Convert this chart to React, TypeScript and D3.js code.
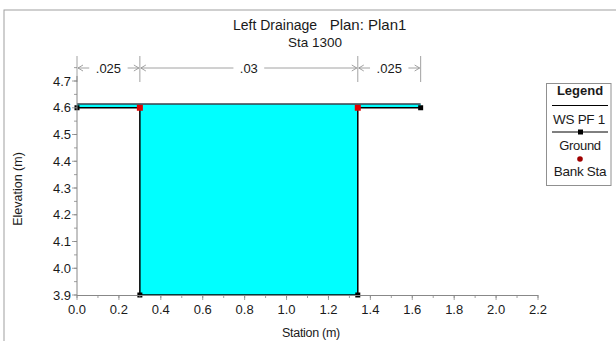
import React from 'react';
import * as d3 from 'd3';

const groundStation = [0, 0.3, 0.3, 1.34, 1.34, 1.64];
const groundElev = [4.6, 4.6, 3.9, 3.9, 4.6, 4.6];
const wsElev = 4.614;
const bankStation = [0.3, 1.34];
const bankElev = [4.6, 4.6];
const nBreaks = [0, 0.3, 1.34, 1.64];
const nLabels = ['.025', '.03', '.025'];
const xTickValues = [0, 0.2, 0.4, 0.6, 0.8, 1.0, 1.2, 1.4, 1.6, 1.8, 2.0, 2.2];
const yTickValues = [3.9, 4.0, 4.1, 4.2, 4.3, 4.4, 4.5, 4.6, 4.7];

const font = '"Liberation Sans", Arial, sans-serif';

export default function App() {
  const x = d3.scaleLinear().domain([0, 2.2]).range([77, 538]);
  const y = d3.scaleLinear().domain([3.9, 4.7]).range([295, 81]);

  const ground = groundStation.map((s, i) => [s, groundElev[i]] as [number, number]);
  const line = d3.line<[number, number]>().x(d => x(d[0])).y(d => y(d[1]));
  const area = d3.area<[number, number]>()
    .x(d => x(d[0]))
    .y0(d => y(d[1]))
    .y1(() => y(wsElev));

  const xMinor = d3.range(0, 2.2001, 0.1);
  const yMinor = d3.range(3.9, 4.7501, 0.05);
  const arrowY = 68;
  const grey = '#8a8a8a';
  const txt = '#1a1a1a';

  return (
    <svg width={616} height={341} style={{ position: 'absolute', left: 0, top: 0 }}>
      <rect x={4} y={10} width={640} height={360} fill="#fff" stroke="#a0a0a0" />

      {/* title */}
      <text x={275} y={30} fontFamily={font} fontSize={14} textAnchor="middle" fill={txt}>Left Drainage</text>
      <text x={368} y={30} fontFamily={font} fontSize={15} textAnchor="middle" fill={txt}>Plan: Plan1</text>
      <text x={315} y={47} fontFamily={font} fontSize={13.5} textAnchor="middle" fill={txt}>Sta 1300</text>

      {/* n values */}
      {nBreaks.map((b, i) => (
        <line key={'nb' + i} x1={x(b)} x2={x(b)} y1={56} y2={82} stroke={grey} strokeWidth={0.8} />
      ))}
      {nLabels.map((lab, i) => {
        const a = x(nBreaks[i]);
        const b = x(nBreaks[i + 1]);
        const m = (a + b) / 2;
        const half = lab.length * 3.8 + 4;
        return (
          <g key={'nl' + i}>
            <line x1={a + 1} x2={m - half} y1={arrowY} y2={arrowY} stroke={grey} strokeWidth={0.8} />
            <line x1={m + half} x2={b - 1} y1={arrowY} y2={arrowY} stroke={grey} strokeWidth={0.8} />
            <path d={`M${a + 6},${arrowY - 3}L${a + 1},${arrowY}L${a + 6},${arrowY + 3}`} fill="none" stroke={grey} strokeWidth={0.8} />
            <path d={`M${b - 6},${arrowY - 3}L${b - 1},${arrowY}L${b - 6},${arrowY + 3}`} fill="none" stroke={grey} strokeWidth={0.8} />
            <text x={m} y={arrowY + 4.5} fontFamily={font} fontSize={13} textAnchor="middle" fill={txt}>{lab}</text>
          </g>
        );
      })}

      {/* water */}
      <path d={area(ground) || ''} fill="#00ffff" />
      <line x1={x(0)} x2={x(1.64)} y1={y(wsElev)} y2={y(wsElev)} stroke="#3a3f4a" strokeWidth={1.5} />

      {/* ground */}
      <path d={line(ground) || ''} fill="none" stroke="#000" strokeWidth={1.5} />
      {ground.filter((d, i) => i === 0 || i === ground.length - 1 || d[1] === 3.9).map((d, i) => (
        <rect key={'g' + i} x={x(d[0]) - 2.5} y={y(d[1]) - 2.5} width={5} height={5} fill="#000" />
      ))}
      {bankStation.map((s, i) => (
        <rect key={'b' + i} x={x(s) - 3} y={y(bankElev[i]) - 3} width={6} height={6} fill="#e00000" />
      ))}

      {/* y axis */}
      <line x1={77} x2={77} y1={76} y2={295} stroke="#888" strokeWidth={1} />
      {yMinor.map((v, i) => (
        <line key={'ym' + i} x1={74} x2={77} y1={y(v)} y2={y(v)} stroke="#888" strokeWidth={0.8} />
      ))}
      {yTickValues.map(v => (
        <g key={'y' + v}>
          <line x1={72} x2={77} y1={y(v)} y2={y(v)} stroke="#888" strokeWidth={0.8} />
          <text x={71} y={y(v) + 4.5} fontFamily={font} fontSize={13} textAnchor="end" fill={txt}>{v.toFixed(1)}</text>
        </g>
      ))}

      {/* x axis */}
      <line x1={77} x2={538} y1={295.5} y2={295.5} stroke="#888" strokeWidth={1} />
      {xMinor.map((v, i) => (
        <line key={'xm' + i} x1={x(v)} x2={x(v)} y1={295} y2={298} stroke="#888" strokeWidth={0.8} />
      ))}
      {xTickValues.map(v => (
        <g key={'x' + v}>
          <line x1={x(v)} x2={x(v)} y1={295} y2={300} stroke="#888" strokeWidth={0.8} />
          <text x={x(v)} y={314} fontFamily={font} fontSize={13} textAnchor="middle" fill={txt}>{v.toFixed(1)}</text>
        </g>
      ))}

      <text x={311} y={337} fontFamily={font} fontSize={12.5} textAnchor="middle" letterSpacing={-0.3} fill={txt}>Station (m)</text>
      <text transform="translate(22,189) rotate(-90)" fontFamily={font} fontSize={12.5} textAnchor="middle" fill={txt}>Elevation (m)</text>

      {/* legend */}
      <rect x={546.5} y={83.5} width={64.5} height={102} fill="#fff" stroke="#909090" />
      <text x={580} y={95} fontFamily={font} fontSize={13} fontWeight="bold" textAnchor="middle" fill={txt}>Legend</text>
      <line x1={552} x2={608} y1={105.5} y2={105.5} stroke="#000" strokeWidth={1} />
      <text x={579} y={124} fontFamily={font} fontSize={13.5} textAnchor="middle" letterSpacing={-0.3} fill={txt}>WS PF 1</text>
      <line x1={552} x2={608} y1={132} y2={132} stroke="#000" strokeWidth={1} />
      <rect x={578} y={129.5} width={5} height={5} fill="#000" />
      <text x={580} y={150} fontFamily={font} fontSize={13} textAnchor="middle" letterSpacing={-0.3} fill={txt}>Ground</text>
      <circle cx={580} cy={159} r={2.8} fill="#a00000" />
      <text x={580} y={176} fontFamily={font} fontSize={13.5} textAnchor="middle" letterSpacing={-0.3} fill={txt}>Bank Sta</text>
    </svg>
  );
}
